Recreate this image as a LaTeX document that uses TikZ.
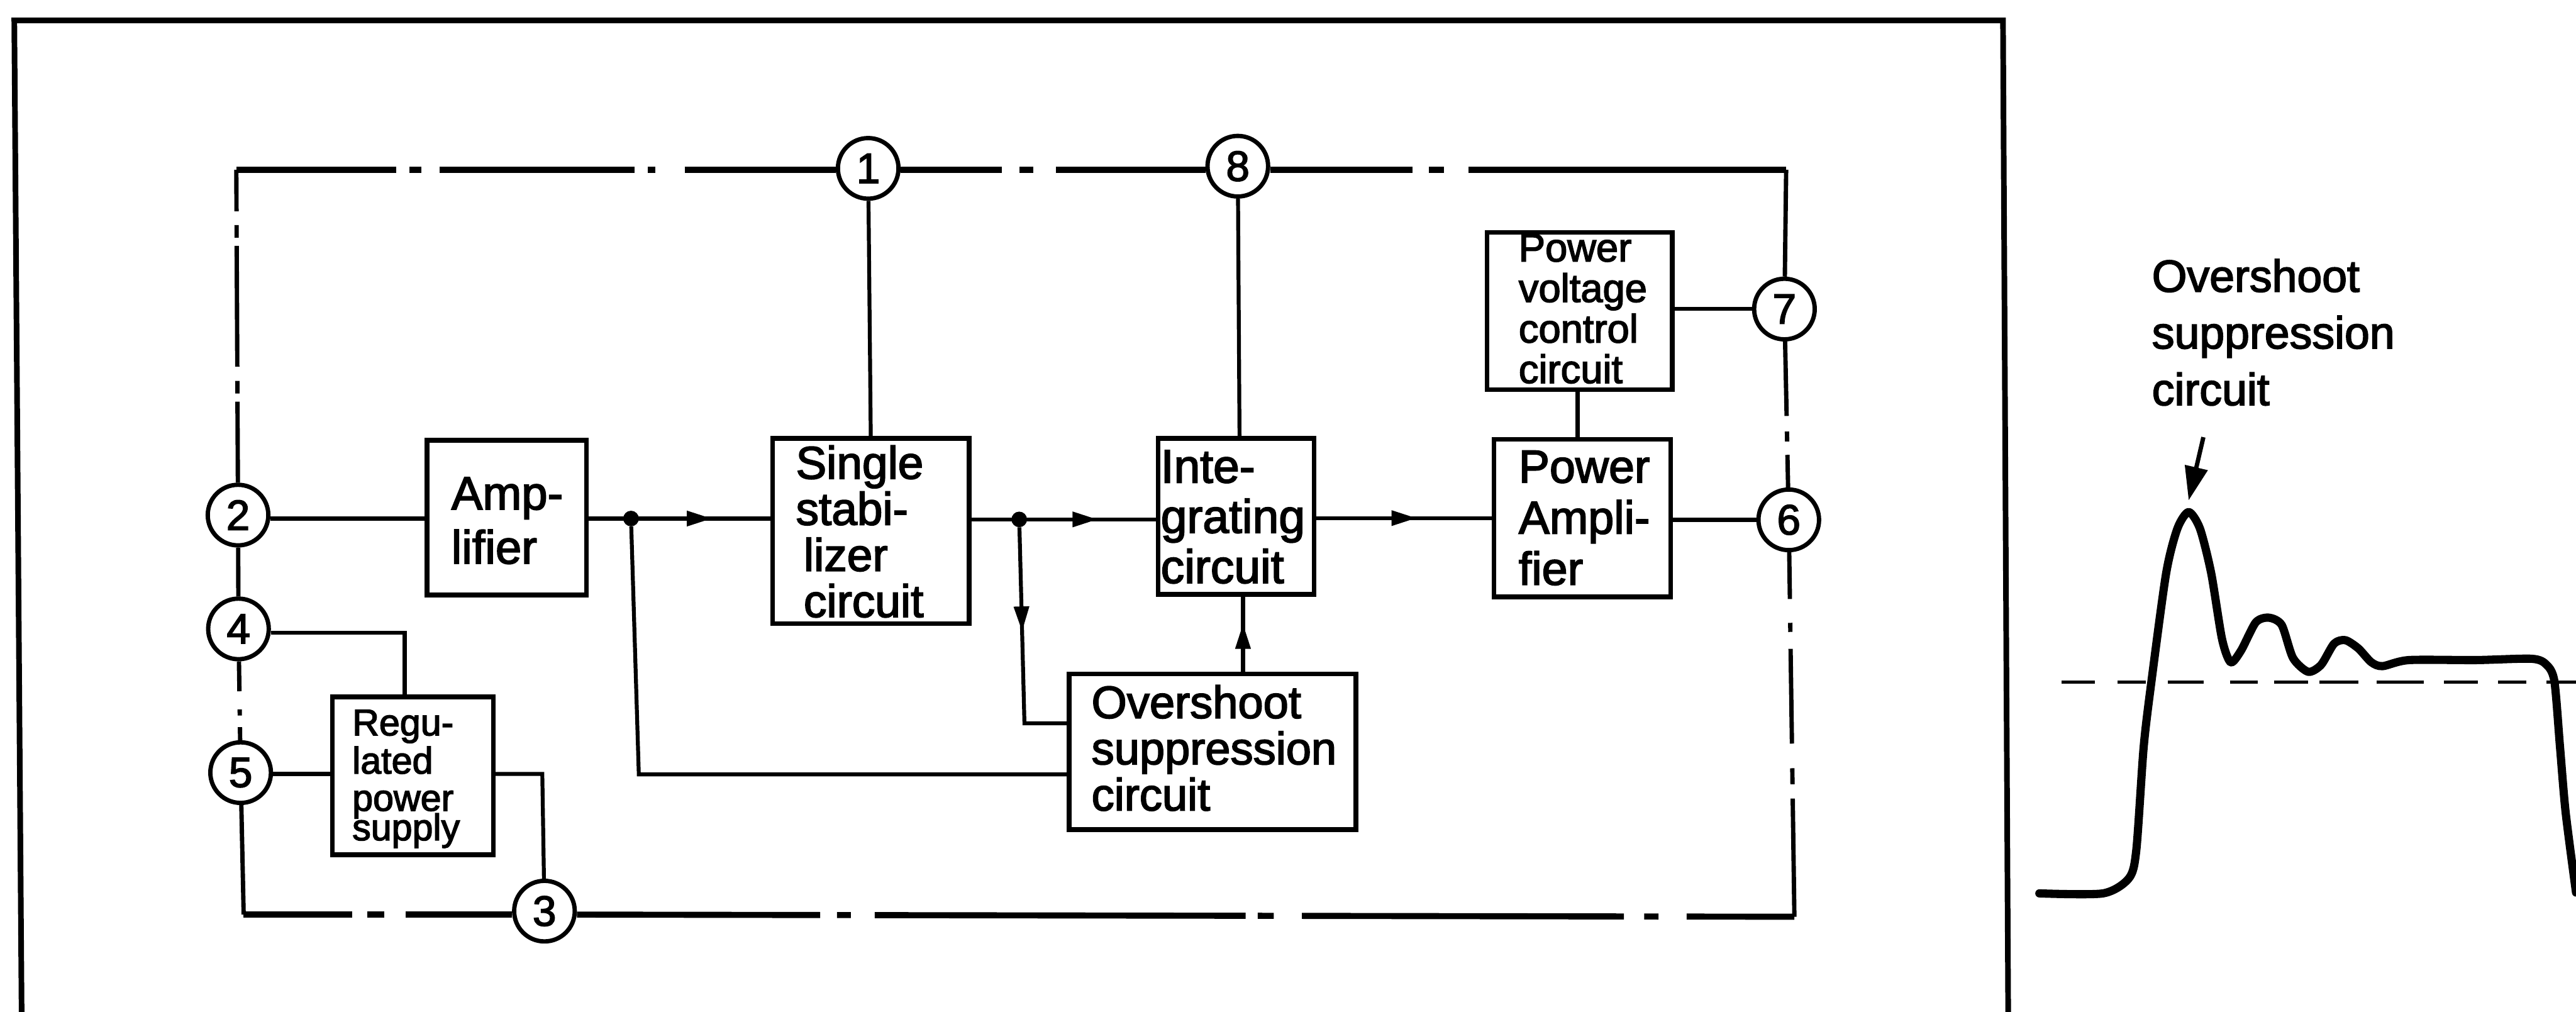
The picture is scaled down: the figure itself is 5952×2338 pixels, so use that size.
\documentclass[tikz,border=0pt]{standalone}
\usepackage{fontspec}
\setmainfont[FakeBold=2.5]{Liberation Sans}
\usetikzlibrary{arrows.meta,decorations.markings}
\tikzset{
  frame/.style={line width=13pt,line cap=rect,line join=miter},
  busH/.style={line width=14pt},
  busV/.style={line width=10pt},
  conn/.style={line width=9pt},
  blk/.style={draw,line width=11pt,inner sep=0pt,outer sep=0pt,line join=miter},
  num/.style={draw,circle,line width=10pt,minimum size=140pt,inner sep=0pt,fill=white,font=\fontsize{98}{98}\selectfont},
  jn/.style={fill,circle,minimum size=36pt,inner sep=0pt},
  flowmark/.style={postaction={decorate},decoration={markings,mark=at position #1 with {\arrow{Triangle[width=34pt,length=58pt]}}}},
  wave/.style={line width=19pt,line cap=round,line join=round},
}
% name, left, top, right, bottom, text x, first baseline y, font, lines
\newcommand{\bx}[9]{%
  \pgfmathsetlengthmacro\bxdx{#6pt-(#2pt+#4pt)/2}%
  \pgfmathsetlengthmacro\bxdy{(#3pt+#5pt)/2-#7pt}%
  \node[blk,minimum width=#4pt-#2pt,minimum height=#5pt-#3pt] (#1)
    at ({(#2+#4)/2},{(#3+#5)/2}) {\makebox[0pt][l]{\hspace*{\bxdx}\raisebox{\bxdy}[0pt][0pt]{#8\begin{tabular}[t]{@{}l@{}}#9\end{tabular}}}};%
}
\begin{document}
\begin{tikzpicture}[x=1pt,y=-1pt]
\useasboundingbox (0,0) rectangle (5952,2338);
\fill[white] (0,0) rectangle (5952,2338);
% outer frame
\draw[frame] (50,2345) -- (33,47) -- (4628,47) -- (4640,2345);
% blocks
\bx{amp}{987}{1017}{1355}{1375}{1043}{1177}{\fontsize{108}{125}\selectfont}{Amp-\\lifier}
\bx{single}{1785}{1013}{2239}{1441}{1839}{1106}{\fontsize{106}{99}\selectfont}{Single\\stabi-\\\hspace*{18pt}lizer\\\hspace*{18pt}circuit}
\bx{inte}{2676}{1013}{3036}{1373}{2682}{1115}{\fontsize{109}{116}\selectfont}{Inte-\\grating\\circuit}
\bx{pa}{3452}{1015}{3860}{1379}{3509}{1115}{\fontsize{107}{118}\selectfont}{Power\\Ampli-\\fier}
\bx{pv}{3436}{537}{3864}{900}{3509}{604}{\fontsize{92}{90}\selectfont}{Power\\voltage\\control\\circuit}
\bx{reg}{768}{1610}{1140}{1975}{814}{1699}{\fontsize{86}{86}\selectfont}{Regu-\\lated\\power\\[-20pt]supply}
\bx{over}{2470}{1557}{3133}{1917}{2522}{1659}{\fontsize{105}{102}\selectfont}{Overshoot\\suppression\\circuit}
% numbered terminals
\node[num] (n1) at (2006,389) {1};
\node[num] (n8) at (2860,384) {8};
\node[num] (n7) at (4123,714) {7};
\node[num] (n6) at (4133,1201) {6};
\node[num] (n2) at (550,1190) {2};
\node[num] (n4) at (551,1453) {4};
\node[num] (n5) at (556,1785) {5};
\node[num] (n3) at (1258,2105) {3};
% corners and junctions
\coordinate (cTL) at (546,392);
\coordinate (cTR) at (4127,392);
\coordinate (cBR) at (4146,2118);
\coordinate (cBL) at (563,2113);
\coordinate (c4) at (935,1462);
\coordinate (c3) at (1253,1788);
\coordinate (fb1) at (1476,1789);
\coordinate (fb2) at (2367,1671);
\node[jn] (j1) at (1458,1198) {};
\node[jn] (j2) at (2355,1200) {};
% supply bus
\draw[busV,dash pattern=on 96pt off 32pt on 29pt off 19pt on 279pt off 33pt on 29pt off 19pt on 999pt] (cTL) -- (n2);
\draw[busH,dash pattern=on 369pt off 31pt on 27pt off 42pt on 451pt off 31pt on 17pt off 68pt on 999pt] (cTL) -- (cTL -| n1.west);
\draw[busH,dash pattern=on 234pt off 41pt on 31pt off 53pt on 999pt] (cTL -| n1.east) -- (cTL -| n8.west);
\draw[busH,dash pattern=on 328pt off 39pt on 34pt off 57pt on 999pt] (cTL -| n8.east) -- (cTR);
\draw[busV] (cTR) -- (n7);
\draw[busV,dash pattern=on 172pt off 36pt on 23pt off 31pt on 999pt] (n7) -- (n6);
\draw[busV,dash pattern=on 108pt off 55pt on 21pt off 39pt on 219pt off 57pt on 37pt off 33pt on 999pt] (n6) -- (cBR);
\draw[busH,dash pattern=on 562pt off 39pt on 32pt off 55pt on 857pt off 28pt on 37pt off 65pt on 744pt off 47pt on 33pt off 65pt on 999pt] (cBL -| n3.east) -- (cBR);
\draw[busH,dash pattern=on 251pt off 35pt on 39pt off 49pt on 999pt] (cBL) -- (cBL -| n3.west);
\draw[busV] (n5) -- (cBL);
\draw[busV,dash pattern=on 69pt off 42pt on 14pt off 27pt on 999pt] (n4) -- (n5);
\draw[busV] (n2) -- (n4);
% signal path
\draw[conn] (j1 -| n2.east) -- (j1 -| amp.west);
\draw[conn,flowmark=290pt] (j1 -| amp.east) -- (j1 -| single.west);
\draw[conn,flowmark=297pt] (j2 -| single.east) -- (j2 -| inte.west);
\draw[conn,flowmark=237pt] (pa.west -| inte.east) -- (pa.west);
\draw[conn] (n6 -| pa.east) -- (n6);
\draw[conn] (n1) -- (single.north);
\draw[conn] (n8) -- ([xshift=8pt]inte.north);
\draw[conn] (n7 -| pv.east) -- (n7);
\draw[conn] ([xshift=-5pt]pv.south) -- ([xshift=-11pt]pa.north);
\draw[conn] (c4 -| n4.east) -- (c4) -- (c4 |- reg.north);
\draw[conn] (c3 -| n5.east) -- (c3 -| reg.west);
\draw[conn] (c3 -| reg.east) -- (c3) -- (n3);
\draw[conn] (j1) -- (fb1) -- (fb1 -| over.west);
\draw[conn,flowmark=241pt] (j2) -- (fb2) -- (fb2 -| over.west);
\draw[conn,flowmark=116pt] ([xshift=16pt]inte.south |- over.north) -- ([xshift=16pt]inte.south);
% waveform
\coordinate (ovA) at (5091,1010);
\coordinate (ovB) at (5057,1156);
\draw[line width=10pt,-{Triangle[width=52pt,length=78pt]}] (ovA) -- (ovB);
\node[anchor=base west,inner sep=0pt,align=left,font=\fontsize{104}{131}\selectfont] (ovlabel) at (4972,936) {Overshoot\\suppression\\circuit};
\coordinate (dashA) at (4764,1576);
\coordinate (dashB) at (5952,1576);
\draw[line width=7pt,dash pattern=on 77pt off 52pt on 65pt off 51pt on 82pt off 61pt on 64pt off 39pt on 78pt off 26pt on 90pt off 43pt on 108pt off 47pt on 78pt off 47pt on 65pt off 47pt on 68pt] (dashA) -- (dashB);
\draw[wave] plot[smooth,tension=.45] coordinates {(4712,2064) (4859,2064) (4919,2029) (4936,1964) (4953,1726) (4971,1574) (5005,1324) (5031,1221) (5057,1183) (5083,1221) (5109,1324) (5134,1476) (5154,1530) (5178,1503) (5212,1438) (5242,1427) (5272,1444) (5298,1520) (5333,1552) (5363,1536) (5393,1487) (5419,1479) (5449,1498) (5479,1530) (5505,1539) (5566,1525) (5721,1525) (5850,1522) (5884,1536) (5902,1574) (5915,1726) (5928,1877) (5952,2062)};
\end{tikzpicture}
\end{document}
